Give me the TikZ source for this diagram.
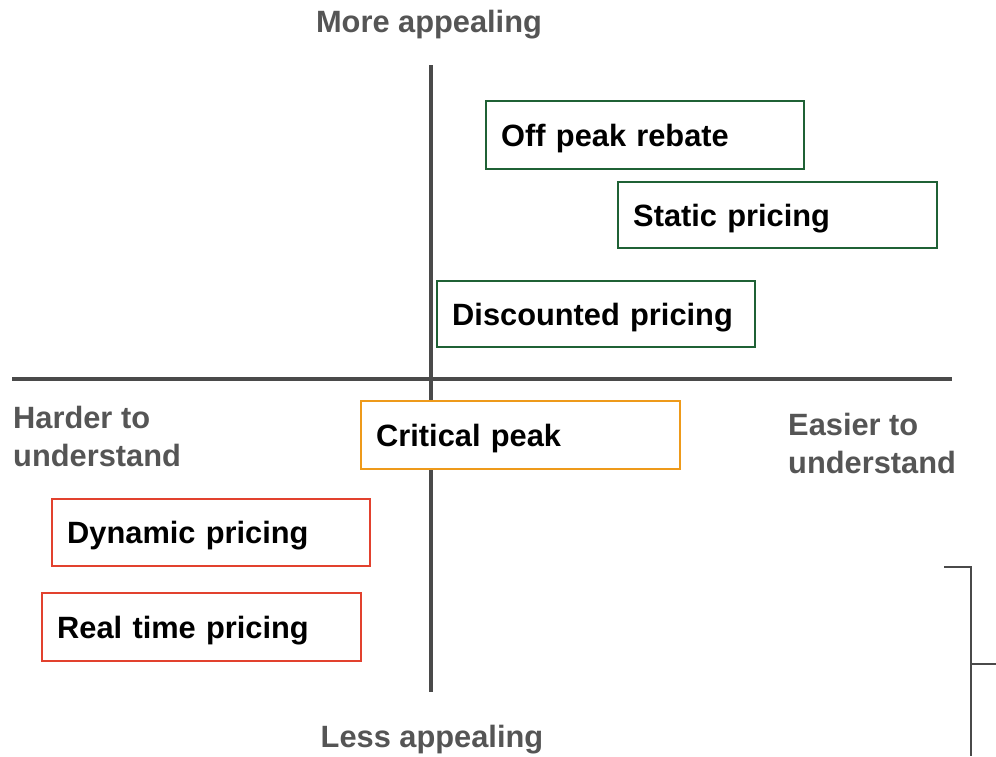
\documentclass[tikz,border=0pt]{standalone}
\usepackage{fontspec}
\setmainfont{Liberation Sans}
\begin{document}
\begin{tikzpicture}[x=1pt,y=-1pt,
  axisline/.style={draw=axisgray,line width=3.5pt},
  axislabel/.style={text=labelgray,font=\fontsize{30.8}{38}\selectfont\bfseries,inner sep=0pt},
  option/.style={draw,line width=2.4pt,fill=white,inner sep=0pt,text height=22pt,text depth=0pt,
    font=\fontsize{30.8}{36}\selectfont\bfseries},
  good/.style={option,draw=boxgreen},
  mid/.style={option,draw=boxorange},
  bad/.style={option,draw=boxred}]
\definecolor{axisgray}{HTML}{4A4A4A}
\definecolor{labelgray}{HTML}{555555}
\definecolor{boxgreen}{HTML}{1F6135}
\definecolor{boxorange}{HTML}{EE9A1A}
\definecolor{boxred}{HTML}{E2412E}
\useasboundingbox (0,0) rectangle (996,756);

% quadrant axes
\coordinate (vtop) at (431,65);
\coordinate (vbot) at (431,692);
\coordinate (hleft) at (12,379);
\coordinate (hright) at (952,379);
\draw[axisline] (vtop) -- (vbot);
\draw[axisline] (hleft) -- (hright);

% axis labels
\node[axislabel] (more) at (429,25) {More appealing};
\node[axislabel] (less) at (432,740) {Less appealing};
\node[axislabel,anchor=west,align=left] (harder) at (13,436) {Harder to\\understand};
\node[axislabel,anchor=west,align=left] (easier) at (788,443) {Easier to\\understand};

% pricing options
\node[good,minimum width=318,minimum height=68,anchor=north west,text width=288,align=left] (offpeak) at (485,100) {Off peak rebate};
\node[good,minimum width=319,minimum height=66,anchor=north west,text width=289,align=left] (static) at (617,181) {Static pricing};
\node[good,minimum width=318,minimum height=66,anchor=north west,text width=288,align=left] (discount) at (436,280) {Discounted pricing};
\node[mid,minimum width=319,minimum height=68,anchor=north west,text width=289,align=left] (critical) at (360,400) {Critical peak};
\node[bad,minimum width=318,minimum height=67,anchor=north west,text width=288,align=left] (dynamic) at (51,498) {Dynamic pricing};
\node[bad,minimum width=319,minimum height=68,anchor=north west,text width=289,align=left] (realtime) at (41,592) {Real time pricing};

% bracket at the lower right edge
\coordinate (b1) at (944,567);
\coordinate (b2) at (971,567);
\coordinate (b3) at (971,756);
\coordinate (b4) at (971,664);
\coordinate (b5) at (996,664);
\draw[axisline,line width=2.8pt] (b1) -- (b2) -- (b3);
\draw[axisline,line width=2.8pt] (b4) -- (b5);
\end{tikzpicture}
\end{document}
